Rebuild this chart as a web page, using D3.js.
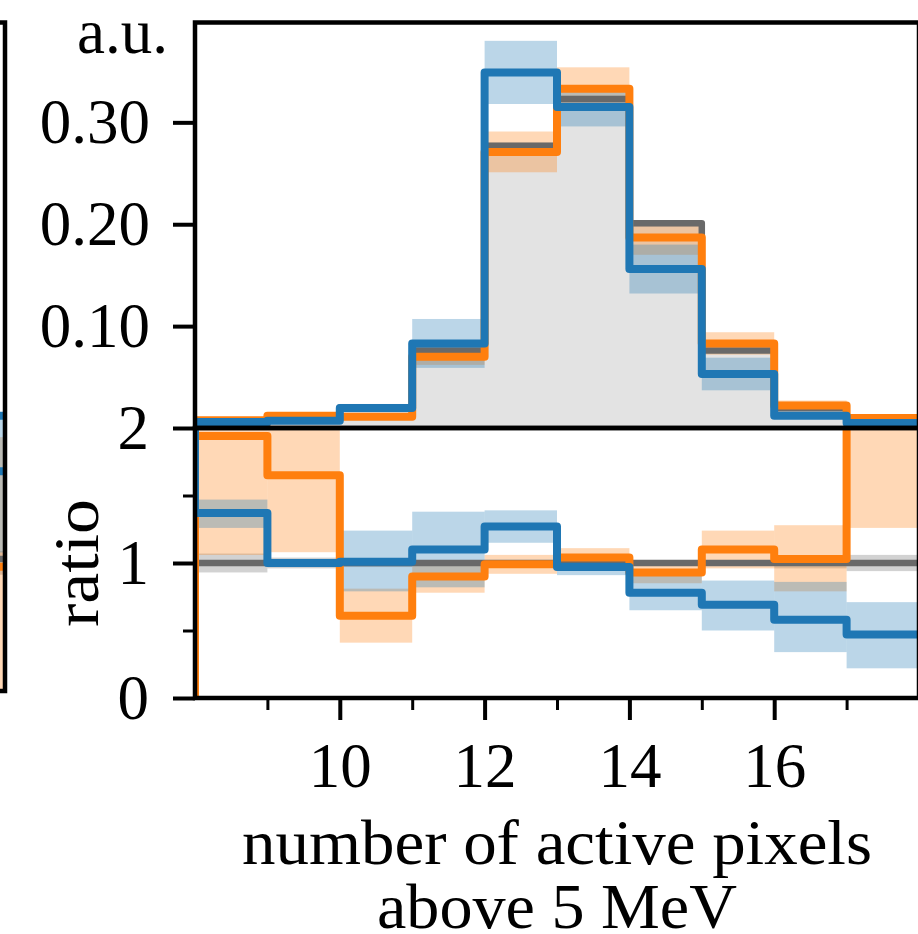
<!DOCTYPE html>
<html>
<head>
<meta charset="utf-8">
<script src="https://cdn.jsdelivr.net/npm/d3@7"></script>
<style>
  html, body { margin: 0; padding: 0; background: #ffffff; }
  svg { display: block; }
</style>
</head>
<body>
<svg id="chart" width="918" height="934"></svg>
<script>
// ---- bins: lower edges of the histogram bins (number of active pixels) ----
const binLo = [8, 9, 10, 11, 12, 13, 14, 15, 16, 17];
const binHi = 18;

// ---- upper panel: normalised distributions (a.u.) ----
const refValues    = [0.0037, 0.0075, 0.020, 0.076, 0.277, 0.323, 0.201, 0.076, 0.0195, 0.006];
const refErr       = [0.0003, 0.0004, 0.0006, 0.0015, 0.003, 0.003, 0.003, 0.0015, 0.0008, 0.0004];
const orangeValues = [0.0075, 0.012, 0.011, 0.070, 0.271, 0.333, 0.187, 0.083, 0.022, 0.0098];
const orangeErr    = [0.002, 0.003, 0.003, 0.008, 0.020, 0.021, 0.017, 0.011, 0.005, 0.003];
const blueValues   = [0.006, 0.007, 0.0196, 0.083, 0.349, 0.315, 0.156, 0.053, 0.012, 0.005];
const blueErr      = [0.002, 0.002, 0.004, 0.024, 0.031, 0.019, 0.024, 0.016, 0.003, 0.002];

// ---- lower panel: ratio to the reference ----
const refRatio      = [1, 1, 1, 1, 1, 1, 1, 1, 1, 1];
const refRatioErr   = [0.07, 0.04, 0.03, 0.02, 0.01, 0.01, 0.015, 0.02, 0.04, 0.06];
const orangeRatio   = [1.94, 1.65, 0.61, 0.90, 0.99, 1.04, 0.93, 1.10, 1.03, 2.6];
const orangeRatioLo = [1.06, 1.08, 0.41, 0.78, 0.92, 0.97, 0.85, 0.96, 0.79, 1.26];
const orangeRatioHi = [2.9, 2.3, 0.81, 1.02, 1.06, 1.11, 1.00, 1.24, 1.28, 4.0];
const blueRatio     = [1.37, 1.00, 1.01, 1.10, 1.27, 0.97, 0.78, 0.69, 0.58, 0.47];
const blueRatioLo   = [1.26, 0.97, 0.79, 0.82, 1.15, 0.91, 0.65, 0.50, 0.34, 0.22];
const blueRatioHi   = [1.47, 1.03, 1.24, 1.38, 1.39, 1.03, 0.91, 0.87, 0.86, 0.71];
// value of the step line entering the first bin from the left
const orangeRatioUnder = 0;
const blueRatioUnder   = 2.5;

// ---- edge of the neighbouring panel (last bin only) ----
const nbTopBlue       = 0.012;
const nbTopBlueBand   = [0.0, 0.010];
const nbRatioLines    = { grey: 1.0, orange: 0.94, blue: 1.67 };
const nbRatioBands    = { grey: [0.88, 1.06], orange: [0.0, 1.93], blue: [1.05, 2.2] };

// ---- axis ticks and labels ----
const topMajor   = [0.1, 0.2, 0.3];
const ratioMajor = [0, 1, 2];
const ratioMinor = [0.5, 1.5];
const xMajor     = [10, 12, 14, 16];
const xMinor     = [9, 11, 13, 15, 17];
const yTopLabel  = "a.u.";
const yRatioLabel = "ratio";
const xLabelLines = ["number of active pixels", "above 5 MeV"];

// ---- styling ----
const C = { blue: "#1f77b4", orange: "#ff7f0e", grey: "#696969", fill: "#e3e3e3" };
const FONT = "'Liberation Serif', 'Times New Roman', serif";
const FS = 63;
const LW = 8;
const SPINE = 4.5;

const L = 195, R = 919, T = 22.5, MID = 428, B = 698;

const svg = d3.select("#chart");

const x = d3.scaleLinear().domain([binLo[0], binHi]).range([L, R]);
const yTop = d3.scaleLinear().domain([0, 0.398]).range([MID, T]);
const yRat = d3.scaleLinear().domain([0, 2]).range([B, MID]);

const defs = svg.append("defs");
defs.append("clipPath").attr("id", "clipTop")
  .append("rect").attr("x", L).attr("y", T).attr("width", R - L).attr("height", MID - T);
defs.append("clipPath").attr("id", "clipRat")
  .append("rect").attr("x", L).attr("y", MID).attr("width", R - L).attr("height", B - MID);
defs.append("clipPath").attr("id", "clipNb")
  .append("rect").attr("x", -50).attr("y", T).attr("width", 55).attr("height", 691 - T);

function stepPoints(vals, under) {
  const pts = [];
  if (under !== undefined) pts.push([binLo[0], under]);
  binLo.forEach((b, i) => pts.push([b, vals[i]]));
  pts.push([binHi, vals[vals.length - 1]]);
  return pts;
}
function stepLine(yScale) {
  return d3.line().x(d => x(d[0])).y(d => yScale(d[1])).curve(d3.curveStepAfter);
}
function bandRects(g, yScale, lo, hi, color) {
  g.append("g").selectAll("rect").data(binLo).join("rect")
    .attr("x", (d) => x(d))
    .attr("width", (d, i) => x(i + 1 < binLo.length ? binLo[i + 1] : binHi) - x(d))
    .attr("y", (d, i) => yScale(hi[i]))
    .attr("height", (d, i) => Math.max(0, yScale(lo[i]) - yScale(hi[i])))
    .attr("fill", color).attr("fill-opacity", 0.3);
}
function drawLine(g, yScale, vals, color, under, width) {
  g.append("path").datum(stepPoints(vals, under))
    .attr("d", stepLine(yScale))
    .attr("fill", "none").attr("stroke", color)
    .attr("stroke-width", width || LW)
    .attr("stroke-linejoin", "round");
}

// ================= upper panel =================
const gTop = svg.append("g").attr("clip-path", "url(#clipTop)");
gTop.append("path").datum(stepPoints(refValues))
  .attr("d", d3.area().x(d => x(d[0])).y0(yTop(0)).y1(d => yTop(d[1])).curve(d3.curveStepAfter))
  .attr("fill", C.fill);
bandRects(gTop, yTop, refValues.map((v, i) => v - refErr[i]), refValues.map((v, i) => v + refErr[i]), C.grey);
bandRects(gTop, yTop, orangeValues.map((v, i) => v - orangeErr[i]), orangeValues.map((v, i) => v + orangeErr[i]), C.orange);
bandRects(gTop, yTop, blueValues.map((v, i) => v - blueErr[i]), blueValues.map((v, i) => v + blueErr[i]), C.blue);
drawLine(gTop, yTop, refValues, C.grey, undefined, 6.5);
drawLine(gTop, yTop, orangeValues, C.orange);
drawLine(gTop, yTop, blueValues, C.blue);

// ================= ratio panel =================
const gRat = svg.append("g").attr("clip-path", "url(#clipRat)");
bandRects(gRat, yRat, refRatio.map((v, i) => v - refRatioErr[i]), refRatio.map((v, i) => v + refRatioErr[i]), C.grey);
bandRects(gRat, yRat, orangeRatioLo, orangeRatioHi, C.orange);
bandRects(gRat, yRat, blueRatioLo, blueRatioHi, C.blue);
drawLine(gRat, yRat, refRatio, C.grey, undefined, 6.5);
drawLine(gRat, yRat, orangeRatio, C.orange, orangeRatioUnder);
drawLine(gRat, yRat, blueRatio, C.blue, blueRatioUnder);

// ================= neighbouring panel edge =================
const nbTop = d3.scaleLinear().domain([0, 0.398]).range([MID, T]);
const nbRat = d3.scaleLinear().domain([0, 2]).range([690, MID]);
const gNb = svg.append("g").attr("clip-path", "url(#clipNb)");
const nbBands = [
  { s: nbTop, r: nbTopBlueBand, c: C.blue },
  { s: nbRat, r: nbRatioBands.grey, c: C.grey },
  { s: nbRat, r: nbRatioBands.orange, c: C.orange },
  { s: nbRat, r: nbRatioBands.blue, c: C.blue }
];
gNb.selectAll("rect.band").data(nbBands).join("rect").attr("class", "band")
  .attr("x", -50).attr("width", 55)
  .attr("y", d => Math.max(d.s === nbTop ? T : MID, d.s(d.r[1])))
  .attr("height", d => d.s(d.r[0]) - Math.max(d.s === nbTop ? T : MID, d.s(d.r[1])))
  .attr("fill", d => d.c).attr("fill-opacity", 0.3);
const nbLines = [
  { y: nbTop(nbTopBlue), c: C.blue, w: LW },
  { y: nbRat(nbRatioLines.grey), c: C.grey, w: 6.5 },
  { y: nbRat(nbRatioLines.orange), c: C.orange, w: LW },
  { y: nbRat(nbRatioLines.blue), c: C.blue, w: LW }
];
gNb.selectAll("line").data(nbLines).join("line")
  .attr("x1", -50).attr("x2", 5).attr("y1", d => d.y).attr("y2", d => d.y)
  .attr("stroke", d => d.c).attr("stroke-width", d => d.w);
const nbFrame = svg.append("g").attr("fill", "none").attr("stroke", "#000").attr("stroke-width", SPINE);
nbFrame.append("rect").attr("x", -60).attr("y", T).attr("width", 65).attr("height", 691 - T);

// ================= frames =================
const frame = svg.append("g").attr("fill", "none").attr("stroke", "#000").attr("stroke-width", SPINE);
frame.append("rect").attr("x", L).attr("y", T).attr("width", R - L).attr("height", MID - T);
frame.append("rect").attr("x", L).attr("y", MID).attr("width", R - L).attr("height", B - MID);

// ================= axes =================
function styleAxis(g, tickW) {
  g.select(".domain").remove();
  g.selectAll(".tick line").attr("stroke", "#000").attr("stroke-width", tickW);
  g.attr("font-family", FONT).attr("font-size", FS);
  g.selectAll(".tick text").attr("fill", "#000");
}

const axTop = svg.append("g").attr("transform", `translate(${L},0)`)
  .call(d3.axisLeft(yTop).tickValues(topMajor).tickSize(22).tickPadding(23).tickFormat(d3.format(".2f")));
styleAxis(axTop, 4);

const axRat = svg.append("g").attr("transform", `translate(${L},0)`)
  .call(d3.axisLeft(yRat).tickValues(ratioMajor).tickSize(22).tickPadding(24).tickFormat(d3.format("d")));
styleAxis(axRat, 4);
const axRatMinor = svg.append("g").attr("transform", `translate(${L},0)`)
  .call(d3.axisLeft(yRat).tickValues(ratioMinor).tickSize(12).tickFormat(""));
styleAxis(axRatMinor, 3);

const axX = svg.append("g").attr("transform", `translate(0,${B})`)
  .call(d3.axisBottom(x).tickValues(xMajor).tickSize(22).tickPadding(22).tickFormat(d3.format("d")));
styleAxis(axX, 4);
const axXMinor = svg.append("g").attr("transform", `translate(0,${B})`)
  .call(d3.axisBottom(x).tickValues(xMinor).tickSize(12).tickFormat(""));
styleAxis(axXMinor, 3);

// ================= labels =================
const text = svg.append("g").attr("font-family", FONT).attr("font-size", FS).attr("fill", "#000");
text.append("text").attr("x", 168).attr("y", 53).attr("text-anchor", "end").text(yTopLabel);
text.append("text").attr("transform", `translate(98,${(MID + B) / 2}) rotate(-90)`)
  .attr("text-anchor", "middle").attr("textLength", 128).attr("lengthAdjust", "spacingAndGlyphs")
  .text(yRatioLabel);
const xMid = (L + R) / 2;
const xLabelWidths = [630, 360];
text.selectAll("text.xl").data(xLabelLines).join("text").attr("class", "xl")
  .attr("x", xMid).attr("y", (d, i) => 864 + i * 64)
  .attr("text-anchor", "middle")
  .attr("textLength", (d, i) => xLabelWidths[i]).attr("lengthAdjust", "spacingAndGlyphs")
  .text(d => d);
</script>
</body>
</html>
